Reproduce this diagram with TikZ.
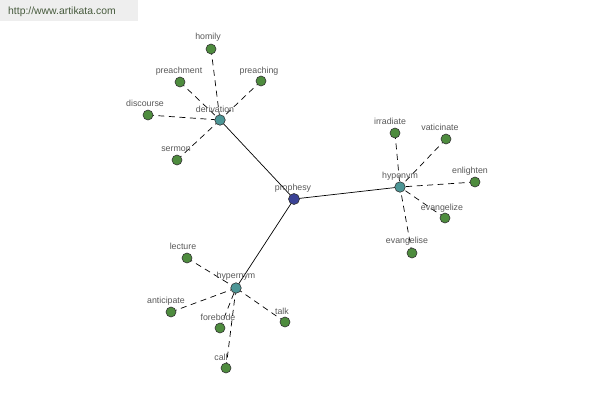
\documentclass[tikz,border=0pt]{standalone}
\usepackage{fontspec}
\setmainfont{Liberation Sans}
\begin{document}
\begin{tikzpicture}[x=1pt,y=-1pt,
  leaf/.style={circle,draw=black!80,line width=0.6pt,fill=leafgreen,minimum size=10pt,inner sep=0pt},
  hub/.style={circle,draw=black!80,line width=0.6pt,fill=hubteal,minimum size=10.5pt,inner sep=0pt},
  root/.style={circle,draw=black!80,line width=0.6pt,fill=rootblue,minimum size=11pt,inner sep=0pt},
  lbl/.style={text=black!65,font=\fontsize{8.8}{9}\selectfont,inner sep=0pt},
  dashline/.style={draw=black,line width=0.7pt,dash pattern=on 6pt off 4.5pt},
  solidl/.style={draw=black,line width=0.7pt}]
\definecolor{leafgreen}{RGB}{78,140,62}
\definecolor{hubteal}{RGB}{76,150,150}
\definecolor{rootblue}{RGB}{58,66,150}
\definecolor{wmgray}{RGB}{238,238,238}
\definecolor{wmtext}{RGB}{70,90,60}
\useasboundingbox (0,0) rectangle (600,400);
\fill[white] (0,0) rectangle (600,400);
\fill[wmgray] (0,0) rectangle (138,21);
\node[text=wmtext,font=\fontsize{10.4}{12}\selectfont,inner sep=0pt,anchor=west] (wm) at (8,11.5) {http://www.artikata.com};

% node coordinates
\coordinate (prophesy) at (294,199);
\coordinate (derivation) at (220,120);
\coordinate (hyponym) at (400,187);
\coordinate (hypernym) at (236,288);
\coordinate (homily) at (211,49);
\coordinate (preachment) at (180,82);
\coordinate (preaching) at (261,81);
\coordinate (discourse) at (148,115);
\coordinate (sermon) at (177,160);
\coordinate (irradiate) at (395,133);
\coordinate (vaticinate) at (446,139);
\coordinate (enlighten) at (475,182);
\coordinate (evangelize) at (445,218);
\coordinate (evangelise) at (412,253);
\coordinate (lecture) at (187,258);
\coordinate (anticipate) at (171,312);
\coordinate (forebode) at (220,328);
\coordinate (call) at (226,368);
\coordinate (talk) at (285,322);

% connectors
\draw[solidl] (prophesy) -- (derivation);
\draw[solidl] (prophesy) -- (hyponym);
\draw[solidl] (prophesy) -- (hypernym);
\foreach \l in {homily,preachment,preaching,discourse,sermon}
  \draw[dashline] (\l) -- (derivation);
\foreach \l in {irradiate,vaticinate,enlighten,evangelize,evangelise}
  \draw[dashline] (\l) -- (hyponym);
\foreach \l in {lecture,anticipate,forebode,call,talk}
  \draw[dashline] (\l) -- (hypernym);

% circles
\node[root] (n-prophesy) at (prophesy) {};
\node[hub] (n-derivation) at (derivation) {};
\node[hub] (n-hyponym) at (hyponym) {};
\node[hub] (n-hypernym) at (hypernym) {};
\foreach \l in {homily,preachment,preaching,discourse,sermon,irradiate,vaticinate,enlighten,evangelize,evangelise,lecture,anticipate,forebode,call,talk}
  \node[leaf] (n-\l) at (\l) {};

% labels
\node[lbl] (l-prophesy) at (293,188) {prophesy};
\node[lbl] (l-derivation) at (215,109) {derivation};
\node[lbl] (l-hyponym) at (400,176) {hyponym};
\node[lbl] (l-hypernym) at (236,276) {hypernym};
\node[lbl] (l-homily) at (208,37.5) {homily};
\node[lbl] (l-preachment) at (179,71.5) {preachment};
\node[lbl] (l-preaching) at (259,71) {preaching};
\node[lbl] (l-discourse) at (145,103) {discourse};
\node[lbl] (l-sermon) at (176,149) {sermon};
\node[lbl] (l-irradiate) at (390,121.5) {irradiate};
\node[lbl] (l-vaticinate) at (440,127.5) {vaticinate};
\node[lbl] (l-enlighten) at (470,171) {enlighten};
\node[lbl] (l-evangelize) at (442,208) {evangelize};
\node[lbl] (l-evangelise) at (407,241.5) {evangelise};
\node[lbl] (l-lecture) at (183,246) {lecture};
\node[lbl] (l-anticipate) at (166,301) {anticipate};
\node[lbl] (l-forebode) at (218,317) {forebode};
\node[lbl] (l-call) at (221,357) {call};
\node[lbl] (l-talk) at (282,311) {talk};
\end{tikzpicture}
\end{document}
